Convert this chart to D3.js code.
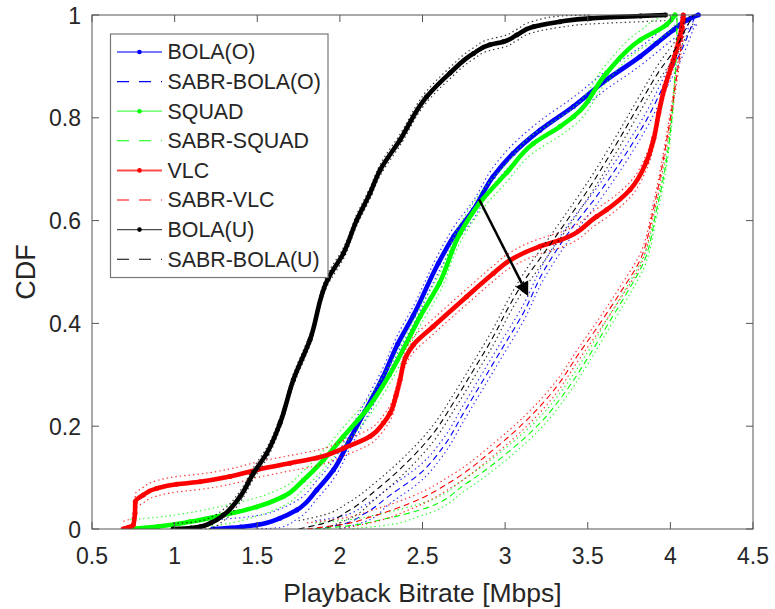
<!DOCTYPE html>
<html>
<head>
<meta charset="utf-8">
<script src="https://cdn.jsdelivr.net/npm/d3@7"></script>
<style>
  html, body { margin: 0; padding: 0; background: #fff; }
  svg { display: block; }
  text { font-family: "Liberation Sans", Arial, Helvetica, sans-serif; fill: #262626; }
</style>
</head>
<body>
<svg id="chart" width="775" height="609"></svg>
<script>
// ---- data: empirical CDFs of playback bitrate, [Mbps, CDF] ----
const bolaO = [[1.23,0],[1.40,0.004],[1.497,0.008],[1.638,0.021],[1.739,0.037],[1.86,0.076],[1.961,0.115],
  [2.061,0.175],[2.15,0.228],[2.26,0.295],[2.35,0.36],[2.444,0.415],[2.596,0.517],[2.69,0.57],[2.808,0.621],
  [2.928,0.686],[3.049,0.731],[3.211,0.776],[3.413,0.822],[3.614,0.874],[3.816,0.919],[3.917,0.945],
  [4.018,0.971],[4.099,0.99],[4.169,1.0]];
const sabrBolaO = [[1.85,0],[2.0,0.008],[2.15,0.03],[2.3,0.065],[2.485,0.108],[2.626,0.16],[2.747,0.225],
  [2.868,0.29],[2.989,0.355],[3.11,0.42],[3.23,0.50],[3.38,0.575],[3.56,0.65],[3.70,0.715],[3.856,0.796],
  [3.977,0.874],[4.058,0.925],[4.119,0.971],[4.15,1.0]];
const squad = [[0.73,0],[0.9,0.005],[1.093,0.014],[1.295,0.027],[1.497,0.043],[1.658,0.063],[1.779,0.095],
  [1.90,0.134],[2.021,0.18],[2.162,0.232],[2.30,0.30],[2.40,0.36],[2.485,0.413],[2.602,0.478],[2.727,0.575],
  [2.848,0.635],[3.009,0.693],[3.171,0.750],[3.332,0.783],[3.413,0.802],[3.614,0.887],[3.816,0.951],
  [3.977,0.981],[4.028,1.0]];
const sabrSquad = [[1.85,0],[2.05,0.006],[2.25,0.018],[2.485,0.037],[2.767,0.089],[3.009,0.147],[3.211,0.206],
  [3.372,0.27],[3.493,0.329],[3.614,0.394],[3.736,0.459],[3.836,0.517],[3.917,0.621],[3.977,0.718],
  [4.008,0.796],[4.028,0.88],[4.038,0.945],[4.04,1.0]];
const vlc = [[0.689,0],[0.72,0.003],[0.75,0.008],[0.76,0.03],[0.762,0.053],[0.81,0.066],[0.891,0.079],
  [1.012,0.087],[1.154,0.092],[1.335,0.102],[1.497,0.115],[1.698,0.128],[1.86,0.138],[2.021,0.157],
  [2.182,0.18],[2.263,0.206],[2.303,0.225],[2.34,0.26],[2.364,0.29],[2.40,0.335],[2.444,0.358],[2.565,0.394],
  [2.767,0.452],[2.928,0.497],[3.03,0.523],[3.211,0.55],[3.332,0.562],[3.554,0.608],[3.614,0.621],
  [3.756,0.66],[3.856,0.715],[3.90,0.76],[3.93,0.81],[3.967,0.861],[4.018,0.912],[4.058,0.958],[4.078,1.0]];
const sabrVlc = [[1.80,0],[2.0,0.008],[2.2,0.025],[2.424,0.05],[2.686,0.095],[2.928,0.154],[3.131,0.212],
  [3.312,0.277],[3.433,0.335],[3.574,0.40],[3.695,0.459],[3.816,0.523],[3.897,0.621],[3.957,0.718],
  [3.998,0.796],[4.038,0.88],[4.068,0.945],[4.088,0.99],[4.09,1.0]];
const bolaU = [[0.99,0],[1.1,0.002],[1.154,0.0045],[1.22,0.012],[1.295,0.027],[1.396,0.063],[1.476,0.108],
  [1.557,0.147],[1.638,0.206],[1.718,0.29],[1.819,0.368],[1.93,0.488],[2.021,0.536],[2.102,0.601],
  [2.182,0.653],[2.243,0.698],[2.364,0.757],[2.525,0.841],[2.666,0.887],[2.808,0.925],[2.908,0.942],
  [2.989,0.948],[3.07,0.961],[3.171,0.977],[3.332,0.987],[3.514,0.9935],[3.82,0.998],[3.97,1.0]];
const sabrBolaU = [[1.75,0],[1.90,0.011],[2.05,0.035],[2.22,0.076],[2.42,0.134],[2.565,0.186],[2.686,0.245],
  [2.808,0.309],[2.928,0.374],[3.03,0.437],[3.13,0.49],[3.22,0.53],[3.33,0.58],[3.514,0.666],[3.675,0.75],
  [3.816,0.828],[3.937,0.893],[4.038,0.938],[4.099,0.977],[4.14,1.0]];

const seriesNames  = ["BOLA(O)", "SABR-BOLA(O)", "SQUAD", "SABR-SQUAD", "VLC", "SABR-VLC", "BOLA(U)", "SABR-BOLA(U)"];
const seriesData   = [bolaO, sabrBolaO, squad, sabrSquad, vlc, sabrVlc, bolaU, sabrBolaU];
// half-width of the confidence band around each CDF
const bandHalfWidth = [0.018, 0.016, 0.018, 0.012, 0.015, 0.012, 0.011, 0.016];

const xTicks = [0.5, 1, 1.5, 2, 2.5, 3, 3.5, 4, 4.5];
const yTicks = [0, 0.2, 0.4, 0.6, 0.8, 1];
const arrowFrom = [2.843, 0.641];
const arrowTo   = [3.140, 0.453];

// ---- styling ----
const colors = ["#0000ff", "#0000ff", "#00ff00", "#00ff00", "#ff0000", "#ff0000", "#000000", "#000000"];
const dashed = [false, true, false, true, false, true, false, true];

const svg = d3.select("#chart");
const M = { left: 92, right: 753, top: 15, bottom: 529 };

const x = d3.scaleLinear().domain([0.5, 4.5]).range([M.left, M.right]);
const y = d3.scaleLinear().domain([0, 1]).range([M.bottom, M.top]);

svg.append("defs").append("clipPath").attr("id", "plotClip")
  .append("rect").attr("x", M.left).attr("y", M.top - 3)
  .attr("width", M.right - M.left).attr("height", M.bottom - M.top + 3);

// CDF values rise strictly, so a curve monotone in y keeps the shape honest
const line = d3.line().x(d => x(d[0])).y(d => y(d[1])).curve(d3.curveMonotoneY);

// shift a CDF up or down by the band half-width, clamped to [0, 1] without repeated levels
function bandPoints(data, off) {
  const shifted = data.map(d => [d[0], Math.max(0, Math.min(1, d[1] + off))]);
  const out = [];
  shifted.forEach((p, k) => {
    if (p[1] === 0 && k + 1 < shifted.length && shifted[k + 1][1] === 0) return;
    if (out.length && out[out.length - 1][1] === 1) return;
    out.push(p);
  });
  return out;
}

const plot = svg.append("g").attr("clip-path", "url(#plotClip)");

seriesData.forEach((data, i) => {
  const g = plot.append("g");
  const eps = bandHalfWidth[i];
  // dotted confidence band, upper and lower
  [eps, -eps].forEach(off => {
    g.append("path")
      .attr("d", line(bandPoints(data, off)))
      .attr("fill", "none")
      .attr("stroke", colors[i])
      .attr("stroke-opacity", 0.8)
      .attr("stroke-width", 1.2)
      .attr("stroke-dasharray", "1.4,3");
  });
  if (dashed[i]) {
    g.append("path")
      .attr("d", line(data))
      .attr("fill", "none")
      .attr("stroke", colors[i])
      .attr("stroke-width", 1.1)
      .attr("stroke-dasharray", "6,4");
  } else {
    g.append("path")
      .attr("d", line(data))
      .attr("fill", "none")
      .attr("stroke", colors[i])
      .attr("stroke-width", 4.6)
      .attr("stroke-linejoin", "round")
      .attr("stroke-linecap", "round");
    g.selectAll("circle").data(data).join("circle")
      .attr("cx", d => x(d[0])).attr("cy", d => y(d[1]))
      .attr("r", 2.5).attr("fill", colors[i]);
  }
});

// ---- arrow annotation ----
(function drawArrow() {
  const x0 = x(arrowFrom[0]), y0 = y(arrowFrom[1]);
  const x1 = x(arrowTo[0]), y1 = y(arrowTo[1]);
  const ang = Math.atan2(y1 - y0, x1 - x0);
  const headLen = 14, headHalf = 7;
  const bx = x1 - headLen * Math.cos(ang), by = y1 - headLen * Math.sin(ang);
  svg.append("line")
    .attr("x1", x0).attr("y1", y0).attr("x2", bx).attr("y2", by)
    .attr("stroke", "#000").attr("stroke-width", 2.5);
  const px = -Math.sin(ang), py = Math.cos(ang);
  svg.append("path")
    .attr("d", `M${x1},${y1}L${bx + headHalf * px},${by + headHalf * py}L${bx - headHalf * px},${by - headHalf * py}Z`)
    .attr("fill", "#000");
})();

// ---- axes box with inward ticks on all four sides ----
const axisColor = "#555";
const tickLen = 7;
svg.append("rect")
  .attr("x", M.left).attr("y", M.top)
  .attr("width", M.right - M.left).attr("height", M.bottom - M.top)
  .attr("fill", "none").attr("stroke", axisColor).attr("stroke-width", 1);

const ticks = svg.append("g").attr("stroke", axisColor).attr("stroke-width", 1);
xTicks.forEach(t => {
  ticks.append("line").attr("x1", x(t)).attr("x2", x(t)).attr("y1", M.bottom).attr("y2", M.bottom - tickLen);
  ticks.append("line").attr("x1", x(t)).attr("x2", x(t)).attr("y1", M.top).attr("y2", M.top + tickLen);
});
yTicks.forEach(t => {
  ticks.append("line").attr("x1", M.left).attr("x2", M.left + tickLen).attr("y1", y(t)).attr("y2", y(t));
  ticks.append("line").attr("x1", M.right).attr("x2", M.right - tickLen).attr("y1", y(t)).attr("y2", y(t));
});

svg.append("g").selectAll("text").data(xTicks).join("text")
  .attr("x", d => x(d)).attr("y", M.bottom + 35)
  .attr("text-anchor", "middle").attr("font-size", 23)
  .text(d => d3.format("")(d));

svg.append("g").selectAll("text").data(yTicks).join("text")
  .attr("x", M.left - 11).attr("y", d => y(d) + 8.5)
  .attr("text-anchor", "end").attr("font-size", 23)
  .text(d => d3.format("")(d));

svg.append("text")
  .attr("x", (M.left + M.right) / 2).attr("y", 601.5)
  .attr("text-anchor", "middle").attr("font-size", 26.5)
  .text("Playback Bitrate [Mbps]");

svg.append("text")
  .attr("transform", `translate(35,${(M.top + M.bottom) / 2}) rotate(-90)`)
  .attr("text-anchor", "middle").attr("font-size", 27)
  .text("CDF");

// ---- legend ----
const lg = svg.append("g");
lg.append("rect")
  .attr("x", 110.5).attr("y", 34).attr("width", 217.5).attr("height", 243.5)
  .attr("fill", "#fff").attr("stroke", "#777").attr("stroke-width", 1.2);
seriesNames.forEach((name, i) => {
  const ry = 52 + i * 29.6;
  if (dashed[i]) {
    lg.append("line").attr("x1", 117).attr("x2", 162).attr("y1", ry).attr("y2", ry)
      .attr("stroke", colors[i]).attr("stroke-width", 1.1).attr("stroke-dasharray", "12,10");
  } else {
    lg.append("line").attr("x1", 117).attr("x2", 162).attr("y1", ry).attr("y2", ry)
      .attr("stroke", colors[i]).attr("stroke-opacity", 0.7)
      .attr("stroke-width", seriesNames[i] === "VLC" ? 2 : 1.3);
    lg.append("circle").attr("cx", 139.5).attr("cy", ry).attr("r", 2.3).attr("fill", colors[i]);
  }
  lg.append("text").attr("x", 167.5).attr("y", ry + 7.4).attr("font-size", 21.4).text(name);
});
</script>
</body>
</html>
